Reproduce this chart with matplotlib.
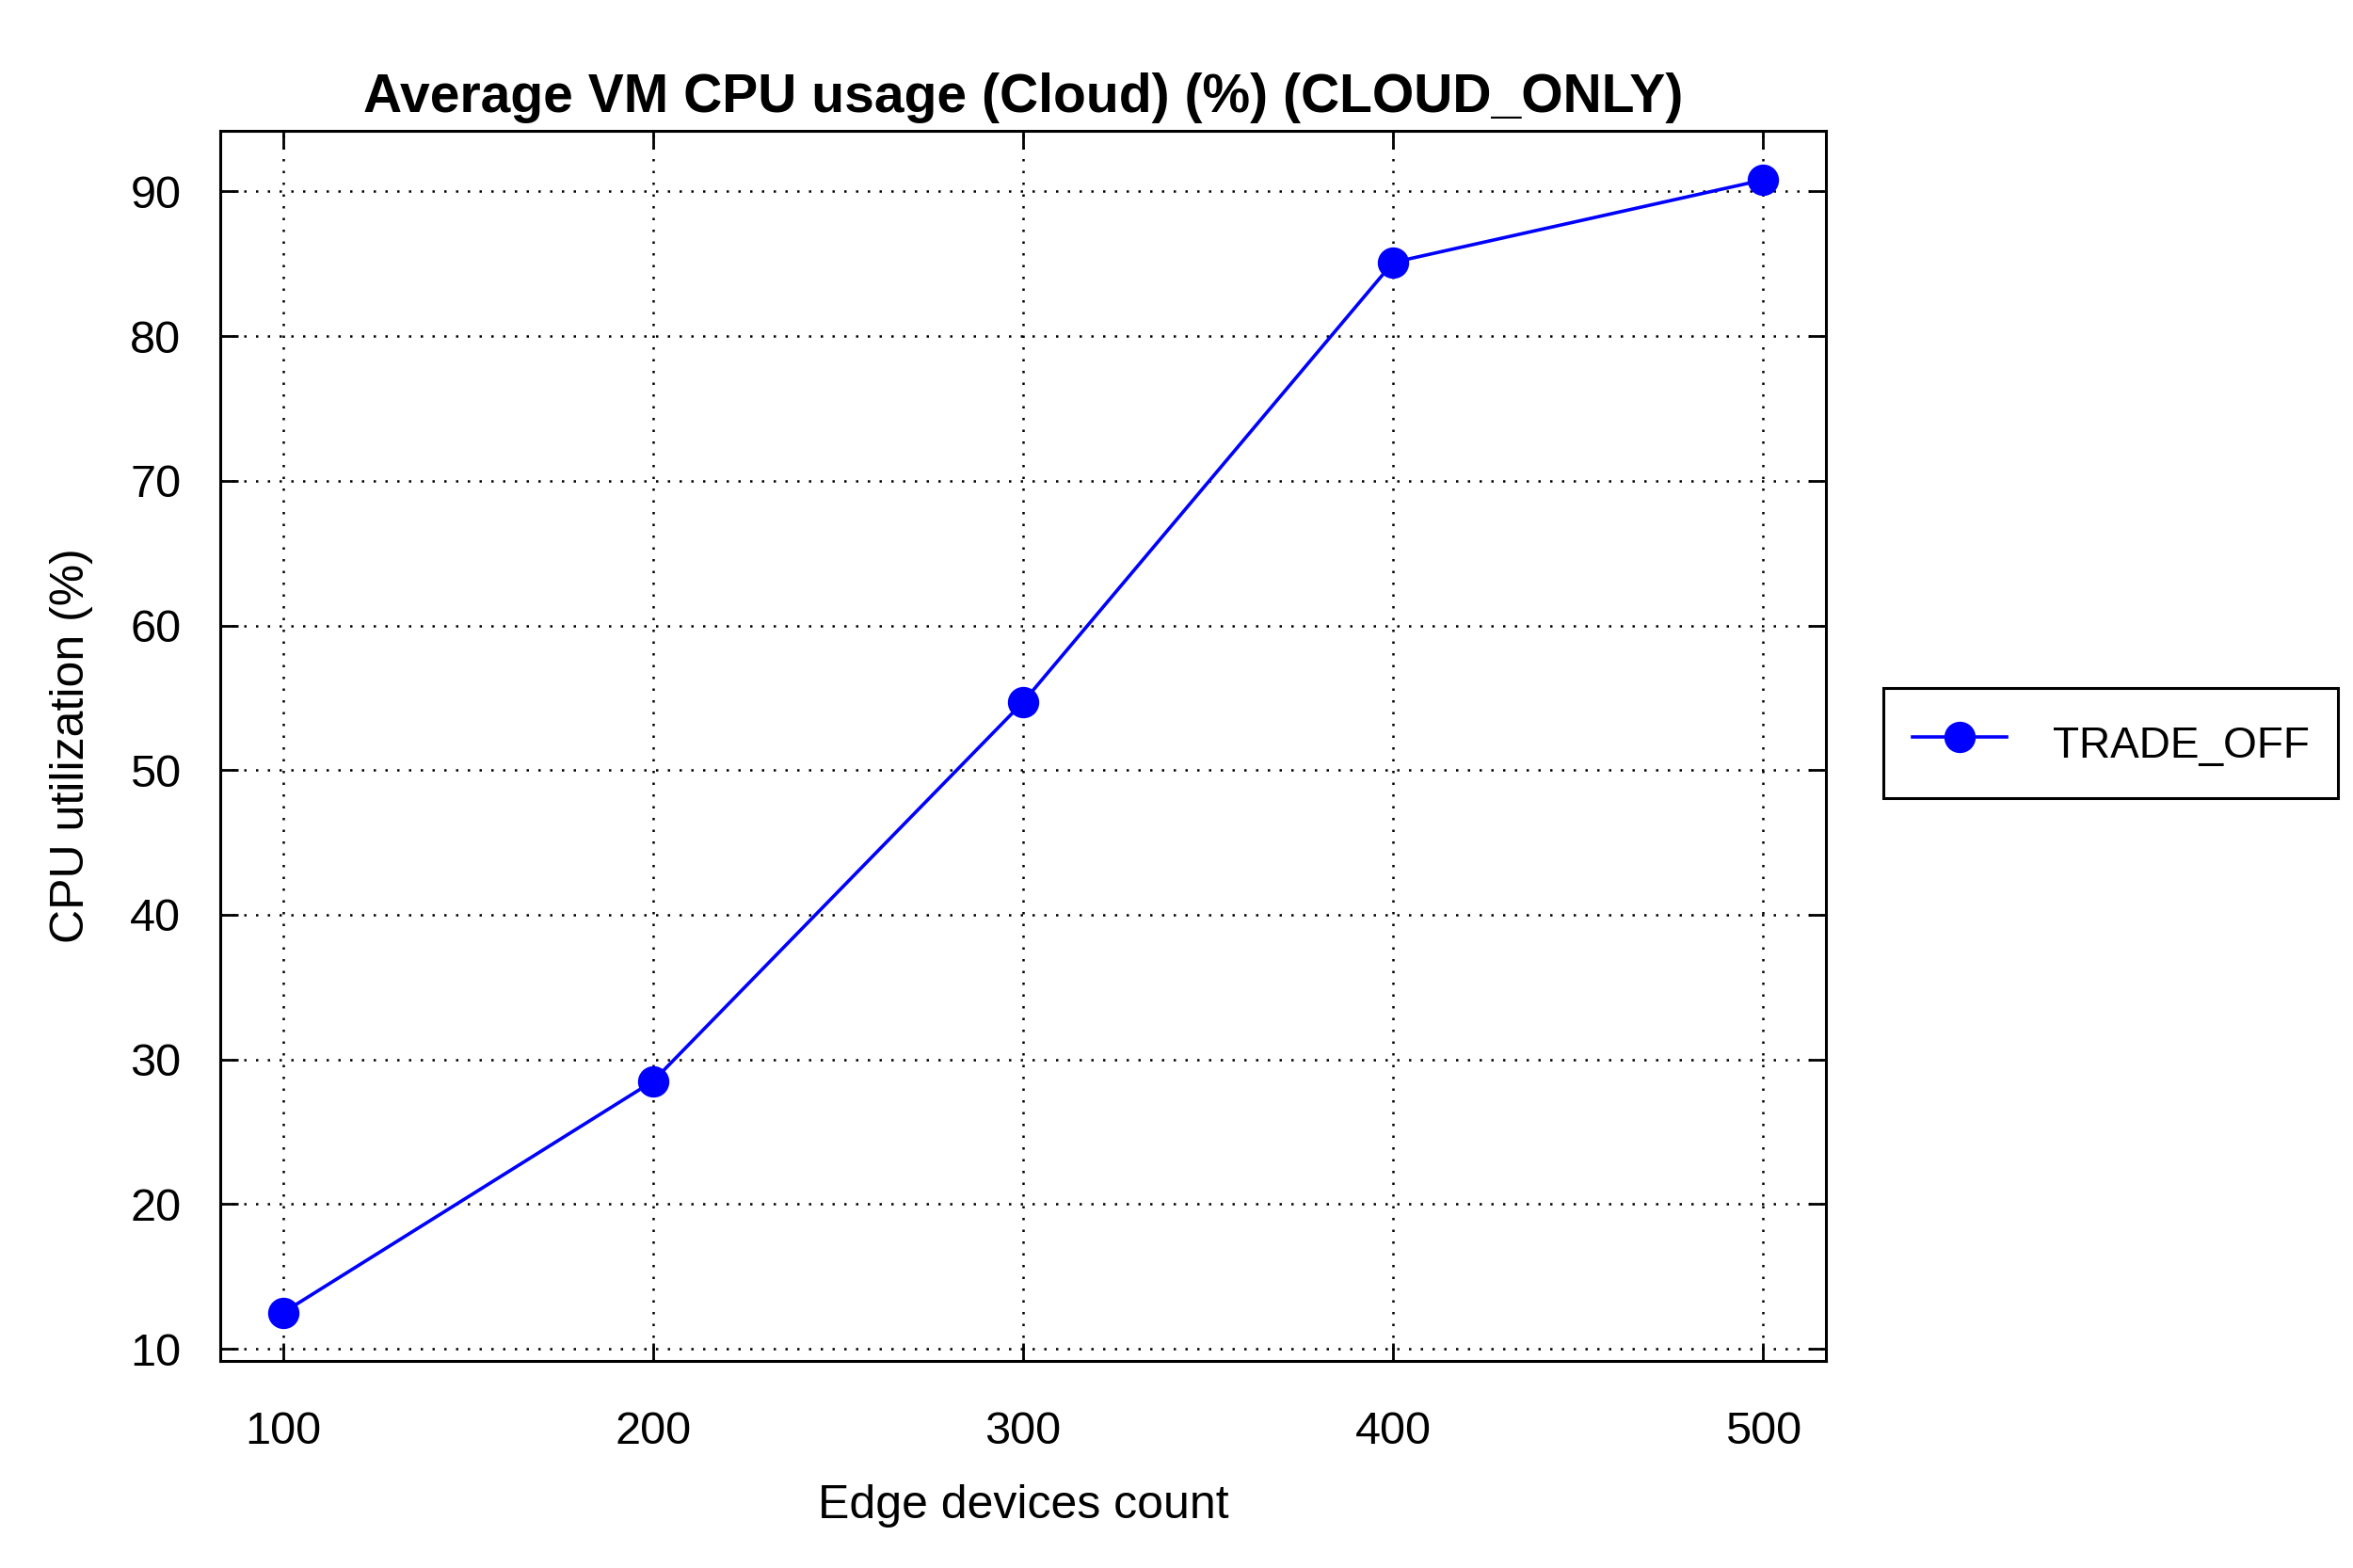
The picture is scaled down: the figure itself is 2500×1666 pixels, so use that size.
import matplotlib.pyplot as plt

plt.rcParams["font.family"] = ["Liberation Sans", "DejaVu Sans"]

devices = [100, 200, 300, 400, 500]
cpu_usage = [12.5, 28.5, 54.7, 85.1, 90.8]
y_ticks = [10, 20, 30, 40, 50, 60, 70, 80, 90]

fig = plt.figure(figsize=(12.5, 8.33), dpi=200)
ax = fig.add_axes([0.0936, 0.132, 0.6824, 0.7846])

ax.plot(
    devices,
    cpu_usage,
    "o-",
    color="blue",
    linewidth=1.3,
    markersize=11,
    label="TRADE_OFF",
)

ax.set_xlim(83, 517)
ax.set_ylim(9.15, 94.2)
ax.set_xticks(devices)
ax.set_yticks(y_ticks)

ax.grid(True, color="black", linestyle=(0, (1, 4)), linewidth=0.9)
ax.tick_params(
    direction="in", length=7, width=1, labelsize=17.5,
    top=True, right=True,
)
ax.tick_params(axis="x", pad=19)
ax.tick_params(axis="y", pad=15)
for s in ax.spines.values():
    s.set_linewidth(1.1)

ax.set_title("Average VM CPU usage (Cloud) (%) (CLOUD_ONLY)",
             fontsize=20.5, fontweight="bold", pad=7)
ax.set_xlabel("Edge devices count", fontsize=18, labelpad=12)
ax.set_ylabel("CPU utilization (%)", fontsize=18, labelpad=14)

leg = fig.legend(
    loc="center",
    bbox_to_anchor=(0.897, 0.526),
    fontsize=16.5,
    fancybox=False,
    edgecolor="black",
    framealpha=1,
    handlelength=2.2,
    handleheight=1.5,
    borderpad=0.66,
    handletextpad=1.05,
)
leg.get_frame().set_linewidth(1.1)

plt.savefig("out.png", dpi=200)
